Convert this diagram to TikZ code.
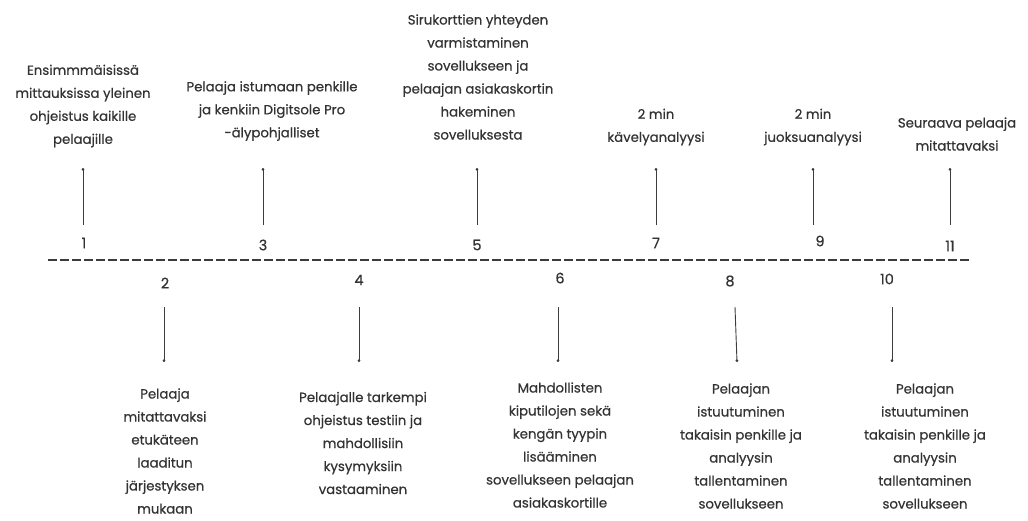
\documentclass[tikz,border=0pt]{standalone}
\usepackage{fontspec}
\setmainfont{Poppins}
\newfontfamily\descfont{Poppins}[FakeBold=0.6]
\usetikzlibrary{arrows.meta}
\definecolor{txt}{HTML}{333333}
\definecolor{ln}{HTML}{3C3C3C}
\tikzset{
  desc/.style={align=center, text=txt, font=\descfont\fontsize{13.3}{23}\selectfont, inner sep=0pt},
  num/.style={text=txt, font=\descfont\fontsize{14.5}{15}\selectfont, inner sep=0pt},
  conn/.style={draw=ln, line width=0.9pt, -{Circle[length=2.6pt]}},
  axis/.style={draw=ln, line width=2.6pt, dash pattern=on 9pt off 3pt}
}
\begin{document}
\begin{tikzpicture}[x=1pt,y=-1pt]
\useasboundingbox (0,0) rectangle (1028,520);
% timeline
\coordinate (L0) at (48,260);
\coordinate (L1) at (970,260);
\draw[axis] (L0) -- (L1);
% numbers
\node[num] (n1) at (84,243) {1};
\node[num] (n3) at (263,245) {3};
\node[num] (n5) at (477,245) {5};
\node[num] (n7) at (656,243) {7};
\node[num] (n9) at (820,241) {9};
\node[num] (n11) at (950,246) {11};
\node[num] (n2) at (165,283) {2};
\node[num] (n4) at (359,280) {4};
\node[num] (n6) at (560,278) {6};
\node[num] (n8) at (730,281) {8};
\node[num] (n10) at (887,279) {10};
% top texts
\node[desc] (t1) at (83,106) {Ensimmmäisissä\\mittauksissa yleinen\\ohjeistus kaikille\\pelaajille};
\node[desc] (t3) at (272,111) {Pelaaja istumaan penkille\\ja kenkiin Digitsole Pro\\-älypohjalliset};
\node[desc] (t5) at (478,77) {Sirukorttien yhteyden\\varmistaminen\\sovellukseen ja\\pelaajan asiakaskortin\\hakeminen\\sovelluksesta};
\node[desc] (t7) at (656,127) {2 min\\kävelyanalyysi};
\node[desc] (t9) at (813,127) {2 min\\juoksuanalyysi};
\node[desc] (t11) at (957,134) {Seuraava pelaaja\\mitattavaksi};
% bottom texts
\node[desc] (t2) at (165,451) {Pelaaja\\mitattavaksi\\etukäteen\\laaditun\\järjestyksen\\mukaan};
\node[desc] (t4) at (363,443) {Pelaajalle tarkempi\\ohjeistus testiin ja\\mahdollisiin\\kysymyksiin\\vastaaminen};
\node[desc] (t6) at (560,445) {Mahdollisten\\kiputilojen sekä\\kengän tyypin\\lisääminen\\sovellukseen pelaajan\\asiakaskortille};
\node[desc] (t8) at (741,446) {Pelaajan\\istuutuminen\\takaisin penkille ja\\analyysin\\tallentaminen\\sovellukseen};
\node[desc] (t10) at (925,446) {Pelaajan\\istuutuminen\\takaisin penkille ja\\analyysin\\tallentaminen\\sovellukseen};
% arrow endpoints
\foreach \i/\x in {1/83,3/263,5/477,7/656,9/813,11/950}{
  \coordinate (a\i) at (\x,225);
  \coordinate (b\i) at (\x,168);
  \draw[conn] (a\i) -- (b\i);
}
\foreach \i/\x/\y in {2/164/164,4/359/359,6/558/558,8/735/737,10/892/892}{
  \coordinate (a\i) at (\x,307);
  \coordinate (b\i) at (\y,362);
  \draw[conn] (a\i) -- (b\i);
}
\end{tikzpicture}
\end{document}
